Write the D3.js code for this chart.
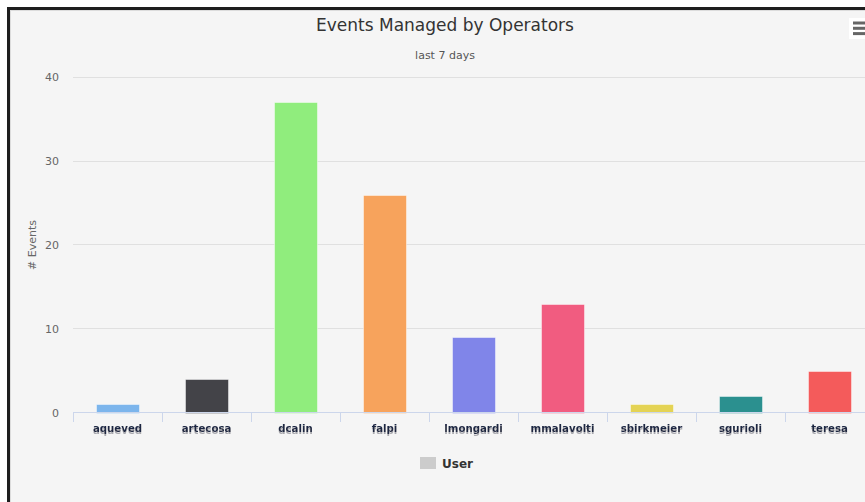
<!DOCTYPE html>
<html>
<head>
<meta charset="utf-8">
<script src="https://cdn.jsdelivr.net/npm/d3@7"></script>
<style>
  html, body { margin: 0; padding: 0; background: #ffffff; overflow: hidden; }
  svg { display: block; font-family: "DejaVu Sans", "Lucida Grande", sans-serif; }
</style>
</head>
<body>
<svg id="chart" width="865" height="502"></svg>
<script>
const categories = ["aqueved", "artecosa", "dcalin", "falpi", "lmongardi", "mmalavolti", "sbirkmeier", "sgurioli", "teresa"];
const values = [1, 4, 37, 26, 9, 13, 1, 2, 5];
const colors = ["#7cb5ec", "#434348", "#90ed7d", "#f7a35c", "#8085e9", "#f15c80", "#e4d354", "#2b908f", "#f45b5b"];
const yTicks = [0, 10, 20, 30, 40];
const titleText = "Events Managed by Operators";
const subtitleText = "last 7 days";
const yAxisTitle = "# Events";
const legendLabel = "User";

const svg = d3.select("#chart");
const defs = svg.append("defs");
const f = defs.append("filter").attr("id", "shadow")
  .attr("x", "-10%").attr("y", "-30%").attr("width", "120%").attr("height", "170%");
f.append("feGaussianBlur").attr("in", "SourceAlpha").attr("stdDeviation", 0.7).attr("result", "b");
f.append("feOffset").attr("in", "b").attr("dx", 0.4).attr("dy", 1.8).attr("result", "o");
f.append("feFlood").attr("flood-color", "#a8a8ae").attr("result", "c");
f.append("feComposite").attr("in", "c").attr("in2", "o").attr("operator", "in").attr("result", "s");
const m = f.append("feMerge");
m.append("feMergeNode").attr("in", "s");
m.append("feMergeNode").attr("in", "SourceGraphic");

// frame
svg.append("rect").attr("x", 8.5).attr("y", 8.5).attr("width", 900).attr("height", 600)
  .attr("fill", "#f5f5f5").attr("stroke", "#1e1e1e").attr("stroke-width", 3);
svg.append("rect").attr("x", 10.5).attr("y", 10.5).attr("width", 900).attr("height", 600)
  .attr("fill", "none").attr("stroke", "#dcdcdc").attr("stroke-width", 1);

const plot = { left: 73, right: 874, top: 77.3, bottom: 412.5 };

const x = d3.scaleBand().domain(categories).range([plot.left, plot.right]).paddingInner(0).paddingOuter(0);
const y = d3.scaleLinear().domain([0, 40]).range([plot.bottom, plot.top]);

// gridlines
svg.append("g").selectAll("line").data(yTicks.filter(d => d > 0)).join("line")
  .attr("x1", plot.left).attr("x2", plot.right)
  .attr("y1", d => Math.floor(y(d)) + 0.5).attr("y2", d => Math.floor(y(d)) + 0.5)
  .attr("stroke", "#e0e0e0").attr("stroke-width", 1);

// y labels
svg.append("g").selectAll("text").data(yTicks).join("text")
  .attr("x", 59).attr("y", d => y(d) + 4)
  .attr("text-anchor", "end").attr("font-size", 11).attr("fill", "#666")
  .text(d => d);

// y axis title
svg.append("text")
  .attr("transform", `translate(36, ${(plot.top + plot.bottom) / 2}) rotate(-90)`)
  .attr("text-anchor", "middle").attr("font-size", 11).attr("fill", "#666")
  .text(yAxisTitle);

// bars
const bw = x.bandwidth();
const barW = bw * 0.6 * 0.8;
svg.append("g").selectAll("rect").data(categories).join("rect")
  .attr("x", (d) => Math.round(x(d) + (bw - barW) / 2) + 0.5)
  .attr("y", (d, i) => Math.round(y(values[i])) + 0.5)
  .attr("width", Math.round(barW))
  .attr("height", (d, i) => Math.round(y(0)) - Math.round(y(values[i])))
  .attr("fill", (d, i) => colors[i])
  .attr("stroke", "#ffffff").attr("stroke-opacity", 0.45).attr("stroke-width", 1);

// x axis line and ticks
svg.append("line").attr("x1", plot.left).attr("x2", plot.right)
  .attr("y1", 412.5).attr("y2", 412.5)
  .attr("stroke", "#ccd6eb").attr("stroke-width", 1);
const tickPos = categories.map(d => x(d)).concat([plot.right]);
svg.append("g").selectAll("line").data(tickPos).join("line")
  .attr("x1", d => Math.round(d) + 0.5).attr("x2", d => Math.round(d) + 0.5)
  .attr("y1", 412).attr("y2", 422)
  .attr("stroke", "#ccd6eb").attr("stroke-width", 1);

// x labels
svg.append("g").selectAll("text").data(categories).join("text")
  .attr("x", d => x(d) + bw / 2).attr("y", 432)
  .attr("text-anchor", "middle").attr("font-size", 10.2).attr("font-weight", "bold")
  .attr("fill", "#1d2742")
  .attr("filter", "url(#shadow)")
  .text(d => d);

// title
svg.append("text").attr("x", 445).attr("y", 31).attr("text-anchor", "middle")
  .attr("font-size", 17).attr("fill", "#333").text(titleText);
svg.append("text").attr("x", 445).attr("y", 59).attr("text-anchor", "middle")
  .attr("font-size", 11).attr("fill", "#555").text(subtitleText);

// legend
svg.append("rect").attr("x", 420).attr("y", 457).attr("width", 16).attr("height", 12)
  .attr("fill", "#cccccc");
svg.append("text").attr("x", 442).attr("y", 467.5).attr("font-size", 12)
  .attr("font-weight", "bold").attr("fill", "#333").text(legendLabel);

// menu button
svg.append("rect").attr("x", 849).attr("y", 18).attr("width", 24).attr("height", 21)
  .attr("fill", "#ffffff");
svg.append("g").selectAll("line").data([0, 1, 2]).join("line")
  .attr("x1", 853).attr("x2", 871)
  .attr("y1", d => 23 + d * 5.3).attr("y2", d => 23 + d * 5.3)
  .attr("stroke", "#666").attr("stroke-width", 3);
</script>
</body>
</html>
